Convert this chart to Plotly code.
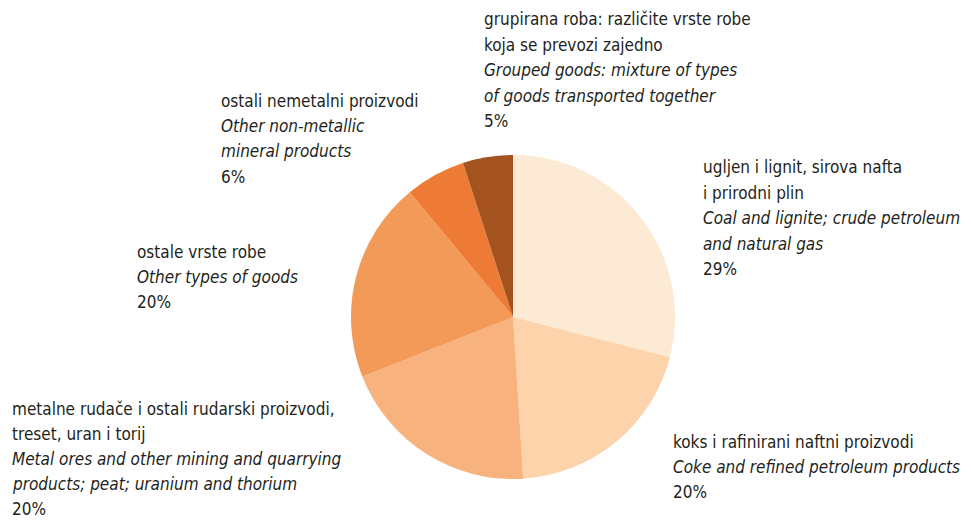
import plotly.graph_objects as go

labels_hr = [
    ["ugljen i lignit, sirova nafta", "i prirodni plin"],
    ["koks i rafinirani naftni proizvodi"],
    ["metalne rudače i ostali rudarski proizvodi,", "treset, uran i torij"],
    ["ostale vrste robe"],
    ["ostali nemetalni proizvodi"],
    ["grupirana roba: različite vrste robe", "koja se prevozi zajedno"],
]
labels_en = [
    ["Coal and lignite; crude petroleum", "and natural gas"],
    ["Coke and refined petroleum products"],
    ["Metal ores and other mining and quarrying", "products; peat; uranium and thorium"],
    ["Other types of goods"],
    ["Other non-metallic", "mineral products"],
    ["Grouped goods: mixture of types", "of goods transported together"],
]
values = [29, 20, 20, 20, 6, 5]
colors = ["#FDEAD5", "#FCD3AA", "#F8B27E", "#F39A58", "#EE7B35", "#A4531F"]

# page body margin (8px) is compensated by shrinking the figure
OFF = 8
W, H = 971 - OFF, 520 - OFF
cx, cy, r = 513 - OFF, 317 - OFF, 162

# label block: left x, first baseline (screen pixels), line step
label_pos = [
    (703, 173, 25.5),
    (673, 448, 25.0),
    (12, 415, 25.0),
    (137, 258, 25.0),
    (221, 107, 25.2),
    (484, 25, 25.5),
]

fig = go.Figure()
fig.add_trace(go.Pie(
    values=values,
    labels=[" ".join(l) for l in labels_hr],
    sort=False,
    direction="clockwise",
    rotation=0,
    marker=dict(colors=colors, line=dict(width=0)),
    textinfo="none",
    showlegend=False,
    domain=dict(x=[(cx - r) / W, (cx + r) / W], y=[1 - (cy + r) / H, 1 - (cy - r) / H]),
))

font = "DejaVu Sans Condensed, DejaVu Sans, sans-serif"
FS = 17
for hr, en, v, (px, py, step) in zip(labels_hr, labels_en, values, label_pos):
    lines = hr + [f"<i>{t}</i>" for t in en] + [f"{v}%"]
    for i, t in enumerate(lines):
        base = py + i * step
        fig.add_annotation(
            x=(px - OFF - 2) / W, y=1 - (base - OFF - 6) / H,
            xref="paper", yref="paper",
            xanchor="left", yanchor="middle", align="left", showarrow=False,
            text=t,
            font=dict(family=font, size=FS, color="#231F20"),
        )

fig.update_layout(
    width=W, height=H,
    margin=dict(l=0, r=0, t=0, b=0),
    paper_bgcolor="#FFFFFF", plot_bgcolor="#FFFFFF",
)
fig.write_html("out.html")
